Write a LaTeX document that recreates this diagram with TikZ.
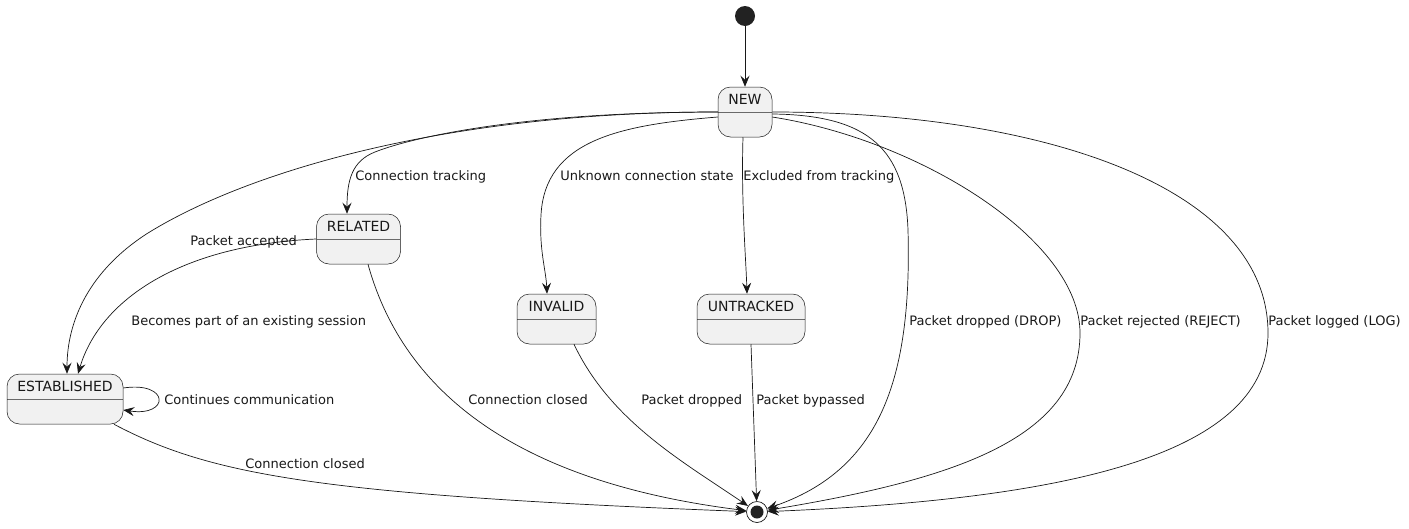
\documentclass[tikz,border=0pt]{standalone}
\usepackage{fontspec}
\setmainfont{DejaVu Sans}
\usetikzlibrary{arrows.meta}
\definecolor{linecol}{HTML}{181818}
\definecolor{statefill}{HTML}{F1F1F1}
\definecolor{dotfill}{HTML}{222222}
\begin{document}
\begin{tikzpicture}[x=1pt,y=-1pt,->,>={Stealth[length=11pt,width=9pt,inset=4pt]},color=linecol,line width=0.7pt,
	state/.style={rectangle,rounded corners=12.5pt,draw=linecol,fill=statefill,line width=0.5pt,minimum height=50pt,inner sep=0pt,
		path picture={\draw[-,line width=0.5pt,linecol!65] ([yshift=-25.5pt]path picture bounding box.north west) -- ([yshift=-25.5pt]path picture bounding box.north east);}},
	statename/.style={font=\fontsize{14}{16}\selectfont,inner sep=0pt,anchor=center,yshift=-12.5pt},
	lbl/.style={font=\fontsize{13}{15}\selectfont,inner sep=0pt,anchor=base west},
	startdot/.style={circle,fill=dotfill,minimum size=20pt,inner sep=0pt},
	enddot/.style={circle,draw=linecol,line width=0.7pt,fill=white,minimum size=21pt,inner sep=0pt,
		path picture={\fill[dotfill] (path picture bounding box.center) circle (6.5pt);}}]

		\useasboundingbox (0,0) rectangle (1409,528);

		\node(s_start)     [startdot] at (745,16) {};
		\node(s_new)       [state,minimum width=54pt,label={[statename]north:NEW}] at (745,112) {};
		\node(s_related)   [state,minimum width=84pt,label={[statename]north:RELATED}] at (358.5,239) {};
		\node(s_invalid)   [state,minimum width=79pt,label={[statename]north:INVALID}] at (556.5,319) {};
		\node(s_untracked) [state,minimum width=108pt,label={[statename]north:UNTRACKED}] at (751,319) {};
		\node(s_est)       [state,minimum width=116pt,label={[statename]north:ESTABLISHED}] at (65,399) {};
		\node(s_end)       [enddot] at (757,512) {};

		\draw (s_start) -- (s_new);
		\draw (s_new.west) .. controls (520,112) and (410,138) .. (375,152) .. controls (352,161) and (347,180) .. ([xshift=-11.5pt]s_related.north);
		\draw (s_new.west) .. controls (450,112) and (250,170) .. (148,233) .. controls (90,270) and (67,320) .. ([xshift=2pt]s_est.north);
		\draw ([yshift=-5pt]s_new.west) .. controls (620,125) and (545,140) .. (541,215) .. controls (539,250) and (546,270) .. ([xshift=-9.5pt]s_invalid.north);
		\draw ([xshift=-2pt]s_new.south) .. controls (741,200) and (746,260) .. ([xshift=-4pt]s_untracked.north);
		\draw ([yshift=-2pt]s_new.east) .. controls (870,115) and (905,150) .. (908,230) .. controls (912,380) and (880,470) .. (s_end);
		\draw ([yshift=-5pt]s_new.east) .. controls (920,140) and (1080,240) .. (1080,333) .. controls (1080,440) and (950,480) .. (s_end);
		\draw (s_new.east) .. controls (1050,112) and (1268,190) .. (1268,333) .. controls (1268,460) and (1050,500) .. (s_end);
		\draw (s_related.west) .. controls (180,245) and (100,300) .. ([xshift=13pt]s_est.north);
		\draw ([xshift=9.5pt]s_related.south) .. controls (400,380) and (500,480) .. (s_end);
		\draw ([yshift=11pt]s_est.east) .. controls (170,381) and (170,417) .. ([yshift=-11pt]s_est.east);
		\draw ([xshift=49pt]s_est.south) .. controls (210,475) and (320,495) .. (s_end);
		\draw ([xshift=17.5pt]s_invalid.south) .. controls (610,420) and (680,460) .. (s_end);
		\draw (s_untracked.south) -- (s_end);

		\node(l_track)    [lbl] at (355,180) {Connection tracking};
		\node(l_accept)   [lbl] at (190,245) {Packet accepted};
		\node(l_unknown)  [lbl] at (560,180) {Unknown connection state};
		\node(l_excluded) [lbl] at (743,180) {Excluded from tracking};
		\node(l_session)  [lbl] at (131,325) {Becomes part of an existing session};
		\node(l_drop)     [lbl] at (909,325) {Packet dropped (DROP)};
		\node(l_reject)   [lbl] at (1080,325) {Packet rejected (REJECT)};
		\node(l_log)      [lbl] at (1268,325) {Packet logged (LOG)};
		\node(l_continue) [lbl] at (164,404) {Continues communication};
		\node(l_closed_r) [lbl] at (468,404) {Connection closed};
		\node(l_dropped)  [lbl] at (641,404) {Packet dropped};
		\node(l_bypassed) [lbl] at (756,404) {Packet bypassed};
		\node(l_closed_e) [lbl] at (245,468) {Connection closed};
	\end{tikzpicture}
\end{document}
